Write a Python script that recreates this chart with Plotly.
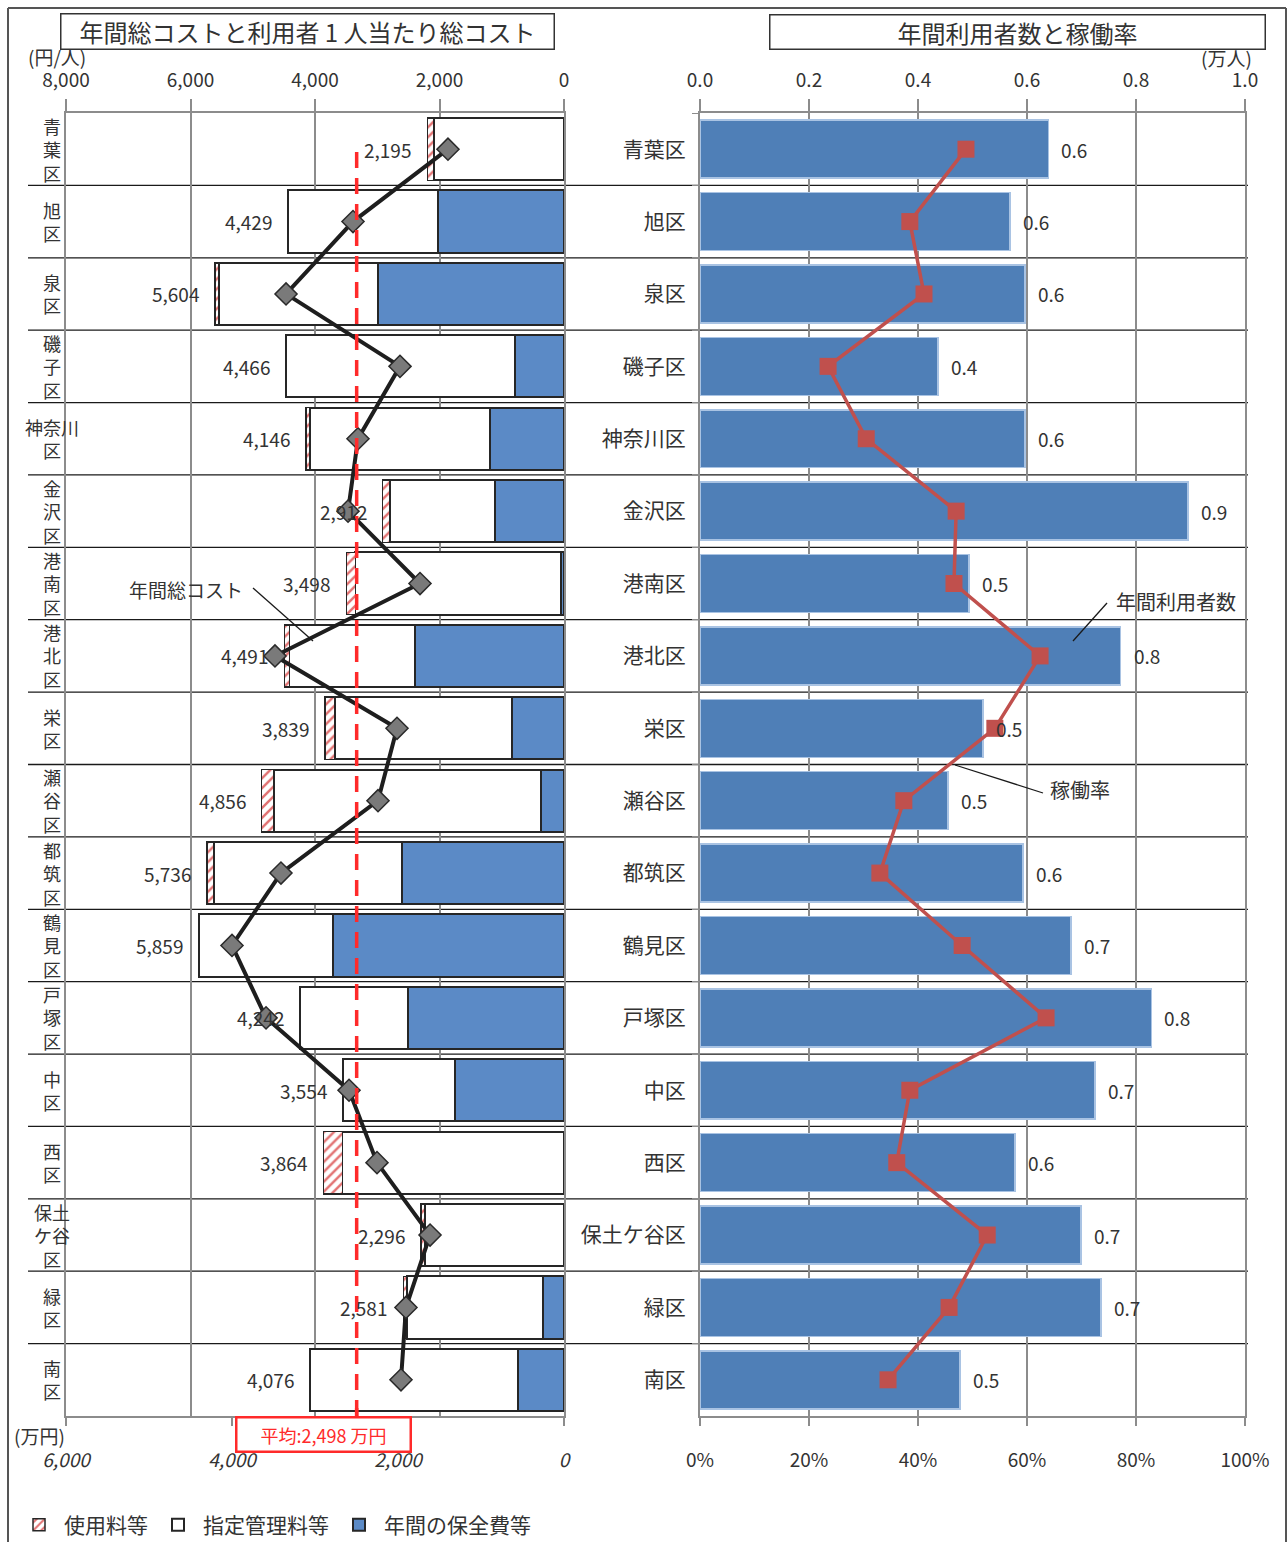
import plotly.graph_objects as go

# ---------------- data ----------------
wards = ["青葉区", "旭区", "泉区", "磯子区", "神奈川区", "金沢区", "港南区", "港北区", "栄区",
         "瀬谷区", "都筑区", "鶴見区", "戸塚区", "中区", "西区", "保土ケ谷区", "緑区", "南区"]
ward_vertical = ["青\n葉\n区", "旭\n区", "泉\n区", "磯\n子\n区", "神奈川\n区", "金\n沢\n区", "港\n南\n区",
                 "港\n北\n区", "栄\n区", "瀬\n谷\n区", "都\n筑\n区", "鶴\n見\n区", "戸\n塚\n区", "中\n区",
                 "西\n区", "保土\nケ谷\n区", "緑\n区", "南\n区"]

# per-user cost (円/人), stacked components
maint_per_user = [0, 2024, 2988, 787, 1189, 1108, 48, 2393, 835, 370, 2602, 3711, 2506, 1751, 0, 0, 337, 739]
mgmt_per_user = [2088, 2405, 2556, 3679, 2897, 1694, 3305, 2018, 2844, 4296, 3024, 2148, 1736, 1803, 3559, 2236, 2184, 3337]
usage_per_user = [107, 0, 60, 0, 60, 110, 145, 80, 160, 190, 110, 0, 0, 0, 305, 60, 60, 0]
total_per_user = [2195, 4429, 5604, 4466, 4146, 2912, 3498, 4491, 3839, 4856, 5736, 5859, 4242, 3554, 3864, 2296, 2581, 4076]

# annual total cost (万円)
annual_cost = [1398, 2542, 3349, 1976, 2482, 2602, 1735, 3482, 2012, 2241, 3410, 4000, 3590, 2590, 2253, 1614, 1904, 1964]
avg_cost = 2498

# annual users (万人) and utilization (%)
users = [0.639, 0.569, 0.596, 0.437, 0.596, 0.895, 0.494, 0.772, 0.519, 0.455, 0.593, 0.681, 0.828, 0.725, 0.578, 0.699, 0.736, 0.477]
util_rate = [48.8, 38.5, 41.1, 23.5, 30.5, 47.0, 46.6, 62.4, 54.1, 37.4, 33.0, 48.1, 63.5, 38.5, 36.1, 52.7, 45.7, 34.5]

left_top_ticks = [0, 2000, 4000, 6000, 8000]
left_bottom_ticks = [0, 2000, 4000, 6000]
right_top_ticks = [0, 0.2, 0.4, 0.6, 0.8, 1.0]
right_bottom_ticks = [0, 20, 40, 60, 80, 100]
right_bottom_labels = ["0%", "20%", "40%", "60%", "80%", "100%"]

# ---------------- geometry helpers ----------------
W, H = 1288, 1542


def px(x):
    return x / W


def py(y):
    return 1 - y / H


FONT = "Noto Sans CJK JP, Noto Sans, sans-serif"
GRID = "#8c8c8c"
TXT = "#333333"
BLUE_L = "#5B8AC6"
BLUE_R = "#4F7FB7"
RED = "#C0504D"

fig = go.Figure()

# ---- left: stacked per-user cost bars ----
fig.add_trace(go.Bar(
    y=wards, x=maint_per_user, orientation="h", name="年間の保全費等",
    marker=dict(color=BLUE_L, line=dict(color="#262626", width=2)),
    width=0.86, xaxis="x", yaxis="y", legendrank=3, hoverinfo="skip"))
fig.add_trace(go.Bar(
    y=wards, x=mgmt_per_user, orientation="h", name="指定管理料等",
    marker=dict(color="white", line=dict(color="#262626", width=2)),
    width=0.86, xaxis="x", yaxis="y", legendrank=2, hoverinfo="skip"))
fig.add_trace(go.Bar(
    y=wards, x=usage_per_user, orientation="h", name="使用料等",
    marker=dict(color="white", line=dict(color="#262626", width=1.5),
                pattern=dict(shape="/", fgcolor="#E27272", bgcolor="white", size=7, solidity=0.35,
                             fillmode="replace")),
    width=0.86, xaxis="x", yaxis="y", legendrank=1, hoverinfo="skip"))

# ---- left: annual total cost line ----
fig.add_trace(go.Scatter(
    y=wards, x=annual_cost, mode="lines+markers", name="年間総コスト", showlegend=False,
    line=dict(color="#1e1e1e", width=4),
    marker=dict(symbol="diamond", size=17, color="#7a7a7a", line=dict(color="#2a2a2a", width=1.5)),
    xaxis="x2", yaxis="y", hoverinfo="skip"))

# ---- right: users bars ----
fig.add_trace(go.Bar(
    y=wards, x=users, orientation="h", name="年間利用者数", showlegend=False,
    marker=dict(color=BLUE_R, line=dict(color="#A9C3E3", width=1.5)),
    width=0.8, xaxis="x3", yaxis="y2", hoverinfo="skip"))

# ---- right: utilization line ----
fig.add_trace(go.Scatter(
    y=wards, x=util_rate, mode="lines+markers", name="稼働率", showlegend=False,
    line=dict(color=RED, width=3.5),
    marker=dict(symbol="square", size=17, color=RED),
    xaxis="x4", yaxis="y2", hoverinfo="skip"))

ydom = [py(1416), py(113)]
yrange = [len(wards) - 0.5, -0.5]
tickfont = dict(family=FONT, size=19, color=TXT)

fig.update_layout(
    template="none",
    width=W, height=H, margin=dict(l=0, r=0, t=0, b=0, autoexpand=False),
    paper_bgcolor="white", plot_bgcolor="rgba(0,0,0,0)",
    font=dict(family=FONT, color=TXT),
    barmode="stack", showlegend=True,
    legend=dict(orientation="h", x=px(14), y=py(1525), xanchor="left", yanchor="middle",
                font=dict(family=FONT, size=21, color=TXT), bgcolor="rgba(0,0,0,0)",
                traceorder="normal", itemwidth=40),
    xaxis=dict(domain=[px(66), px(564)], range=[8000, 0], side="top", anchor="y",
               tickvals=left_top_ticks, tickformat=",d", ticks="outside", ticklen=12,
               tickcolor=GRID, tickwidth=1.5, showline=True, linecolor=GRID, linewidth=2,
               showgrid=True, gridcolor=GRID, gridwidth=1.5, zeroline=False, automargin=False,
               tickfont=tickfont, ticklabelstandoff=4),
    xaxis2=dict(overlaying="x", side="bottom", anchor="y", range=[6000, 0],
                tickvals=left_bottom_ticks, tickformat=",d", ticks="outside", ticklen=8,
                tickcolor=GRID, tickwidth=1.5, showline=True, linecolor=GRID, linewidth=2,
                showgrid=False, zeroline=False, automargin=False,
                tickfont=dict(family=FONT, size=19, color=TXT, style="italic"),
                ticklabelstandoff=18),
    yaxis=dict(domain=ydom, range=yrange, type="category", categoryarray=wards,
               anchor="x", showticklabels=False, showline=True, mirror=True,
               linecolor=GRID, linewidth=2, showgrid=False, ticks="", zeroline=False,
               automargin=False),
    xaxis3=dict(domain=[px(700), px(1245)], range=[0, 1], side="top", anchor="y2",
                tickvals=right_top_ticks, tickformat=".1f", ticks="outside", ticklen=12,
                tickcolor=GRID, tickwidth=1.5, showline=True, linecolor=GRID, linewidth=2,
                showgrid=True, gridcolor=GRID, gridwidth=1.5, zeroline=False, automargin=False,
                tickfont=tickfont, ticklabelstandoff=4),
    xaxis4=dict(overlaying="x3", side="bottom", anchor="y2", range=[0, 100],
                tickvals=right_bottom_ticks, ticktext=right_bottom_labels, ticks="outside", ticklen=8,
                tickcolor=GRID, tickwidth=1.5, showline=True, linecolor=GRID, linewidth=2,
                showgrid=False, zeroline=False, automargin=False, tickfont=tickfont,
                ticklabelstandoff=18),
    yaxis2=dict(domain=ydom, range=yrange, type="category", categoryarray=wards,
                anchor="x3", tickson="boundaries", ticks="outside", ticklen=6, tickcolor=GRID,
                showline=True, mirror=True, linecolor=GRID, linewidth=2, showgrid=False,
                zeroline=False, automargin=False, tickfont=dict(family=FONT, size=21, color=TXT),
                ticklabelstandoff=8),
)

shapes = []
annotations = []

# row separators
for i in range(len(wards) - 1):
    shapes.append(dict(type="line", xref="paper", yref="y", x0=px(28), x1=px(1248),
                       y0=i + 0.5, y1=i + 0.5, line=dict(color="#1a1a1a", width=1.3),
                       layer="between"))

# average line
shapes.append(dict(type="line", xref="x2", yref="paper", x0=avg_cost, x1=avg_cost,
                   y0=py(1416), y1=py(145), line=dict(color="#FF2A2A", width=3.5, dash="16px,10px"),
                   layer="above"))
shapes.append(dict(type="line", xref="x2", yref="paper", x0=avg_cost, x1=avg_cost,
                   y0=py(1420), y1=py(1408), line=dict(color="#FF2A2A", width=3.5), layer="above"))
annotations.append(dict(text=f"平均:{avg_cost:,} 万円", xref="paper", yref="paper",
                        x=px(324), y=py(1434), showarrow=False, xanchor="center", yanchor="middle",
                        font=dict(family=FONT, size=18, color="#FF2A2A"),
                        bordercolor="#FF2A2A", borderwidth=2.5, borderpad=3,
                        bgcolor="white", width=166, height=26))

# outer frame (left, top, right)
shapes.append(dict(type="line", xref="paper", yref="paper", x0=px(8), x1=px(8), y0=0, y1=py(8),
                   line=dict(color="#555555", width=2)))
shapes.append(dict(type="line", xref="paper", yref="paper", x0=px(8), x1=px(1286), y0=py(8), y1=py(8),
                   line=dict(color="#555555", width=2)))
shapes.append(dict(type="line", xref="paper", yref="paper", x0=px(1286), x1=px(1286), y0=0, y1=py(8),
                   line=dict(color="#555555", width=2)))

# leader lines
shapes.append(dict(type="line", xref="paper", yref="paper", x0=px(253), y0=py(588), x1=px(313), y1=py(641),
                   line=dict(color="#1a1a1a", width=1.3)))
shapes.append(dict(type="line", xref="paper", yref="paper", x0=px(1107), y0=py(603), x1=px(1073), y1=py(641),
                   line=dict(color="#1a1a1a", width=1.3)))
shapes.append(dict(type="line", xref="paper", yref="paper", x0=px(1043), y0=py(793), x1=px(955), y1=py(765),
                   line=dict(color="#1a1a1a", width=1.3)))

# titles
annotations.append(dict(text="年間総コストと利用者 1 人当たり総コスト", xref="paper", yref="paper",
                        x=px(307), y=py(31), showarrow=False, xanchor="center", yanchor="middle",
                        font=dict(family=FONT, size=24, color=TXT), bordercolor="#333333",
                        borderwidth=1.5, borderpad=0, width=492, height=34))
annotations.append(dict(text="年間利用者数と稼働率", xref="paper", yref="paper",
                        x=px(1017), y=py(32), showarrow=False, xanchor="center", yanchor="middle",
                        font=dict(family=FONT, size=24, color=TXT), bordercolor="#333333",
                        borderwidth=1.5, borderpad=0, width=494, height=33))

# unit labels
for txt, x, y in [("(円/人)", 57, 57), ("(万人)", 1226, 58), ("(万円)", 39, 1435)]:
    annotations.append(dict(text=txt, xref="paper", yref="paper", x=px(x), y=py(y), showarrow=False,
                            xanchor="center", yanchor="middle", font=dict(family=FONT, size=19, color=TXT)))

# callout labels
for txt, x, y, s in [("年間総コスト", 186, 589, 19), ("年間利用者数", 1176, 602, 20), ("稼働率", 1080, 790, 20)]:
    annotations.append(dict(text=txt, xref="paper", yref="paper", x=px(x), y=py(y), showarrow=False,
                            xanchor="center", yanchor="middle", font=dict(family=FONT, size=s, color=TXT)))

# vertical ward labels (left)
for i, lab in enumerate(ward_vertical):
    annotations.append(dict(text=lab.replace("\n", "<br>"), xref="paper", yref="y", x=px(52), y=i,
                            showarrow=False, xanchor="center", yanchor="middle", align="center",
                            font=dict(family=FONT, size=18, color=TXT)))

# per-user total labels (left)
for i, v in enumerate(total_per_user):
    annotations.append(dict(text=f"{v:,}", xref="x", yref="y", x=v, y=i, xshift=-14,
                            showarrow=False, xanchor="right", yanchor="middle",
                            font=dict(family=FONT, size=19, color=TXT)))

# user value labels (right)
for i, v in enumerate(users):
    annotations.append(dict(text=f"{v:.1f}", xref="x3", yref="y2", x=v, y=i, xshift=11,
                            showarrow=False, xanchor="left", yanchor="middle",
                            font=dict(family=FONT, size=19, color=TXT)))

fig.update_layout(shapes=shapes, annotations=annotations)

fig.write_html(
    "out.html",
    config={"displayModeBar": False},
    post_script="document.body.style.margin='0';document.documentElement.style.overflow='hidden';"
                "document.body.style.overflow='hidden';",
)
